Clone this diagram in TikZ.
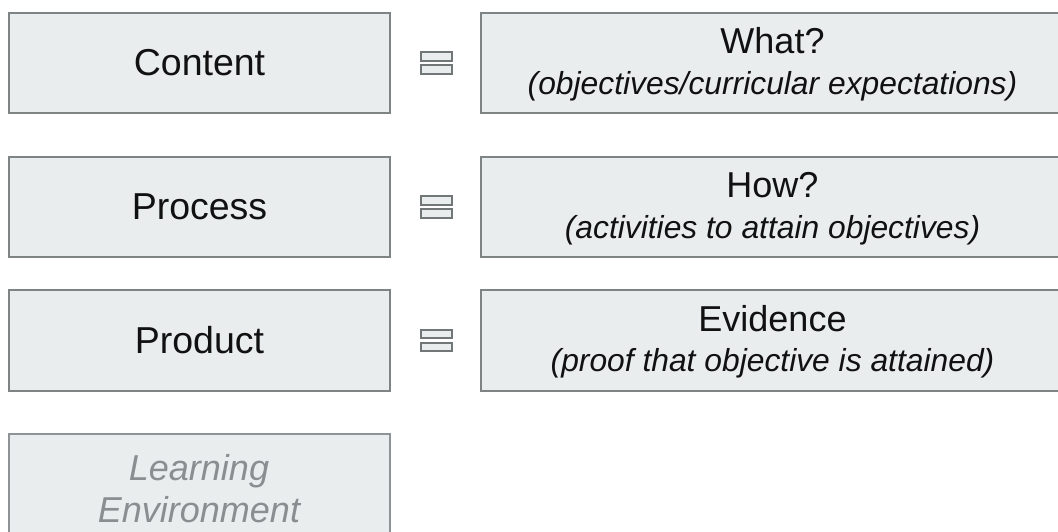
\documentclass[tikz,border=0pt]{standalone}
\usepackage{fontspec}
\setmainfont{Liberation Sans}
\definecolor{boxfill}{HTML}{E9EDEE}
\definecolor{boxline}{HTML}{7E8484}
\definecolor{fadeline}{HTML}{8E9496}
\definecolor{fadetext}{HTML}{8A8E90}
\definecolor{textcol}{HTML}{111111}
\tikzset{
  box/.style={rectangle, draw=boxline, line width=2pt, fill=boxfill, inner sep=0pt},
  leftbox/.style={box, minimum width=381pt, minimum height=100.5pt},
  rightbox/.style={box, minimum width=583pt, minimum height=100.5pt},
  lefttitle/.style={inner sep=0pt, text=textcol, font=\fontsize{37.5}{40}\selectfont},
  title/.style={inner sep=0pt, text=textcol, font=\fontsize{36}{40}\selectfont},
  subtitle/.style={inner sep=0pt, text=textcol, font=\fontsize{31.8}{34}\selectfont\itshape},
  eqbar/.style={rectangle, draw=boxline!90!black, line width=2pt, fill=boxfill, inner sep=0pt, minimum width=31pt, minimum height=8.5pt},
}
\begin{document}
\begin{tikzpicture}[x=1pt,y=-1pt]
\useasboundingbox (0,0) rectangle (1058,531);
\clip (0,0) rectangle (1058,531);
% left column
\node[leftbox] (content) at (199.5,63) {};
\node[lefttitle] (contentT) at (content.center) {Content};
\node[leftbox] (process) at (199.5,207) {};
\node[lefttitle] (processT) at (process.center) {Process};
\node[leftbox] (product) at (199.5,340.5) {};
\node[lefttitle] (productT) at (product.center) {Product};
% learning environment
\node[box, draw=fadeline, minimum width=381pt, minimum height=110pt] (learn) at (199,489) {};
\node[inner sep=0pt, text=fadetext, align=center, font=\fontsize{36}{42}\selectfont\itshape] (learnT) at (199,489) {Learning\\Environment};
% right column
\node[rightbox] (what) at (772.5,63) {};
\node[title] (whatT) at ([yshift=22pt]what.center) {What?};
\node[subtitle] (whatS) at ([yshift=-23pt]what.center) {(objectives/curricular expectations)};
\node[rightbox] (how) at (772.5,207) {};
\node[title] (howT) at ([yshift=22pt]how.center) {How?};
\node[subtitle] (howS) at ([yshift=-23pt]how.center) {(activities to attain objectives)};
\node[rightbox] (evid) at (772.5,340.5) {};
\node[title] (evidT) at ([yshift=22pt]evid.center) {Evidence};
\node[subtitle] (evidS) at ([yshift=-23pt]evid.center) {(proof that objective is attained)};
% equals icons
\foreach \r/\y in {a/63, b/207, c/340.5} {
  \node[eqbar] (eq\r top) at (436,\y-6.5) {};
  \node[eqbar] (eq\r bot) at (436,\y+6.5) {};
}
\end{tikzpicture}
\end{document}
